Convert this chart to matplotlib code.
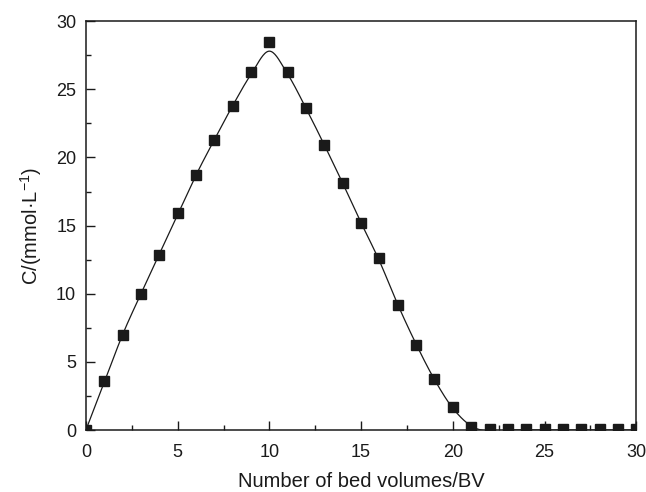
import numpy as np
import matplotlib.pyplot as plt
from matplotlib.ticker import MultipleLocator

plt.rcParams['font.family'] = ['Liberation Sans', 'DejaVu Sans']
plt.rcParams['mathtext.default'] = 'regular'

# measured points
bv = np.arange(0, 31)
conc = [0.0, 3.6, 7.0, 10.0, 12.85, 15.9, 18.7, 21.3, 23.8, 26.3,
        28.5, 26.3, 23.6, 20.9, 18.1, 15.2, 12.6, 9.15, 6.25, 3.75,
        1.7, 0.2, 0.1, 0.05, 0.05, 0.05, 0.05, 0.05, 0.05, 0.05, 0.05]
# fitted curve
fit = [0.0, 3.5, 7.0, 10.0, 12.9, 15.8, 18.7, 21.3, 23.8, 26.1,
       27.8, 26.1, 23.6, 20.9, 18.1, 15.2, 12.4, 9.2, 6.3, 3.7,
       1.6, 0.3, -0.1, 0.0, 0.0, 0.0, 0.0, 0.0, 0.0, 0.0, 0.0]


def catmull(x, y, n=20):
    x = np.asarray(x, float)
    y = np.asarray(y, float)
    px = np.concatenate([[2 * x[0] - x[1]], x, [2 * x[-1] - x[-2]]])
    py = np.concatenate([[2 * y[0] - y[1]], y, [2 * y[-1] - y[-2]]])
    xs, ys = [], []
    t = np.linspace(0, 1, n, endpoint=False)
    for i in range(1, len(px) - 2):
        for p, out in ((px, xs), (py, ys)):
            p0, p1, p2, p3 = p[i - 1], p[i], p[i + 1], p[i + 2]
            out.extend(0.5 * (2 * p1 + (-p0 + p2) * t
                              + (2 * p0 - 5 * p1 + 4 * p2 - p3) * t ** 2
                              + (-p0 + 3 * p1 - 3 * p2 + p3) * t ** 3))
    xs.append(x[-1])
    ys.append(y[-1])
    return np.array(xs), np.array(ys)


fig = plt.figure(figsize=(6.46, 4.92), dpi=100)
ax = fig.add_axes([0.133, 0.126, 0.852, 0.831])

lx, ly = catmull(bv, fit)
ax.plot(lx, ly, color='#1a1a1a', lw=0.9)
ax.plot(bv, conc, 's', color='#1a1a1a', markersize=7)

ax.set_xlim(0, 30)
ax.set_ylim(0, 30)
ax.xaxis.set_major_locator(MultipleLocator(5))
ax.xaxis.set_minor_locator(MultipleLocator(2.5))
ax.yaxis.set_major_locator(MultipleLocator(5))
ax.yaxis.set_minor_locator(MultipleLocator(2.5))
ax.tick_params(which='both', direction='in', top=False, right=False,
               labelsize=13, colors='#1a1a1a', width=1)
ax.tick_params(which='major', length=6.5)
ax.tick_params(axis='x', which='major', pad=10)
ax.tick_params(axis='y', which='major', pad=7)
ax.tick_params(which='minor', length=3.5)
for s in ax.spines.values():
    s.set_color('#1a1a1a')
    s.set_linewidth(1.1)

ax.set_xlabel('Number of bed volumes/BV', fontsize=14.5, color='#1a1a1a', labelpad=8)
ax.set_ylabel('C/(mmol·L$^{-1}$)', fontsize=14.5, color='#1a1a1a', labelpad=9)

fig.savefig('out.png', dpi=100)
